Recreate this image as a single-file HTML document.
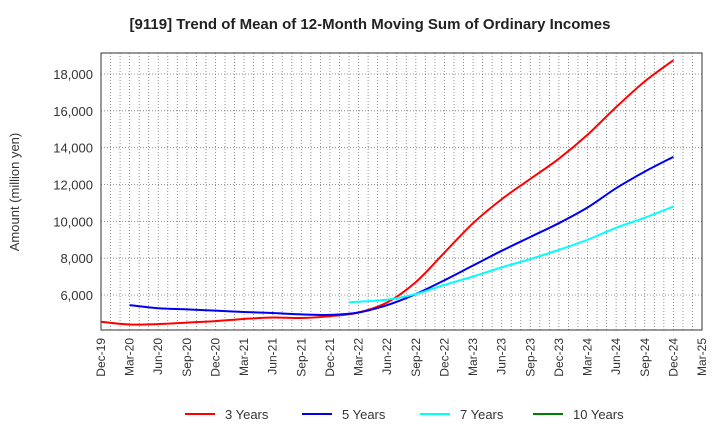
<!DOCTYPE html>
<html><head><meta charset="utf-8"><style>
body{margin:0;background:#fff;font-family:"Liberation Sans",Arial,sans-serif;}
svg text{font-family:"Liberation Sans",Arial,sans-serif;}
</style></head><body>
<svg id="chart" width="720" height="440" xmlns="http://www.w3.org/2000/svg">
<text x="370" y="29" text-anchor="middle" font-size="15" font-weight="bold" fill="#222">[9119]  Trend of Mean of 12-Month Moving Sum of Ordinary Incomes</text>
<g id="grid"></g><g id="axes"></g><g id="series"></g>
<text transform="translate(19,192) rotate(-90)" text-anchor="middle" font-size="13" fill="#333">Amount (million yen)</text>
<g id="legend"></g>
</svg>
<script>
const xLabels=["Dec-19","Mar-20","Jun-20","Sep-20","Dec-20","Mar-21","Jun-21","Sep-21","Dec-21","Mar-22","Jun-22","Sep-22","Dec-22","Mar-23","Jun-23","Sep-23","Dec-23","Mar-24","Jun-24","Sep-24","Dec-24","Mar-25"];
const yTicks=[6000,8000,10000,12000,14000,16000,18000];
const monthsRed=[0,3,6,9,12,15,18,21,24,27,30,33,36,39,42,45,48,51,54,57,60];
const valuesRed=[4550,4400,4420,4500,4580,4700,4780,4750,4850,5050,5600,6700,8300,9900,11200,12300,13400,14700,16200,17600,18750];
const monthsBlue=[3,6,9,12,15,18,21,24,27,30,33,36,39,42,45,48,51,54,57,60];
const valuesBlue=[5450,5280,5220,5150,5080,5020,4950,4920,5050,5450,6050,6800,7600,8400,9150,9900,10750,11800,12700,13500];
const monthsCyan=[26,30,33,36,39,42,45,48,51,54,57,60];
const valuesCyan=[5600,5750,6050,6550,7000,7500,7950,8450,9000,9650,10200,10800];
const L=101,R=702,T=53,B=330,yMin=4100,yMax=19140,nM=63;
const xs=m=>L+(R-L)*m/nM, ys=v=>B-(B-T)*(v-yMin)/(yMax-yMin);
const NS="http://www.w3.org/2000/svg";
function mk(t,a,p){const e=document.createElementNS(NS,t);for(const k in a)e.setAttribute(k,a[k]);p.appendChild(e);return e;}
const grid=document.getElementById('grid'),axes=document.getElementById('axes'),ser=document.getElementById('series'),leg=document.getElementById('legend');
for(let m=1;m<nM;m++){const l=mk('line',{x1:xs(m),x2:xs(m),y1:T,y2:B,stroke:'#777','stroke-width':0.8,'stroke-dasharray':'1,2'},grid);

}
yTicks.forEach(v=>{const l=mk('line',{x1:L,x2:R,y1:ys(v),y2:ys(v),stroke:'#777','stroke-width':0.8,'stroke-dasharray':'1,2'},grid);


const t=mk('text',{x:L-8,y:ys(v)+5,'text-anchor':'end','font-size':13,fill:'#333'},axes);t.textContent=v.toLocaleString('en-US');

});
xLabels.forEach((s,i)=>{const x=xs(i*3);const t=mk('text',{transform:`translate(${x+4},${B+8}) rotate(-90)`,'text-anchor':'end','font-size':12,fill:'#333'},axes);t.textContent=s;

});
const fr=mk('rect',{x:L,y:T,width:R-L,height:B-T,fill:'none',stroke:'#333','stroke-width':1},axes);


function smooth(ms,vs){const p=ms.map((m,i)=>[xs(m),ys(vs[i])]);let d=`M${p[0][0]},${p[0][1]}`;
for(let i=0;i<p.length-1;i++){const p0=p[i-1]||p[i],p1=p[i],p2=p[i+1],p3=p[i+2]||p2;
d+=` C${p1[0]+(p2[0]-p0[0])/6},${p1[1]+(p2[1]-p0[1])/6} ${p2[0]-(p3[0]-p1[0])/6},${p2[1]-(p3[1]-p1[1])/6} ${p2[0]},${p2[1]}`;}return d;}
[[monthsRed,valuesRed,'#ff0000','line-3-years'],[monthsBlue,valuesBlue,'#0000ee','line-5-years'],[monthsCyan,valuesCyan,'#00ffff','line-7-years']].forEach(s=>{
const p=mk('path',{d:smooth(s[0],s[1]),fill:'none',stroke:s[2],'stroke-width':2},ser);

});
[['3 Years','#ff0000',185],['5 Years','#0000ee',302],['7 Years','#00ffff',420],['10 Years','#008000',533]].forEach(e=>{
const g=mk('g',{},leg);


mk('line',{x1:e[2],x2:e[2]+30,y1:414,y2:414,stroke:e[1],'stroke-width':2},g);
const t=mk('text',{x:e[2]+40,y:419,'font-size':13,fill:'#333'},g);t.textContent=e[0];});
</script>
</body></html>
